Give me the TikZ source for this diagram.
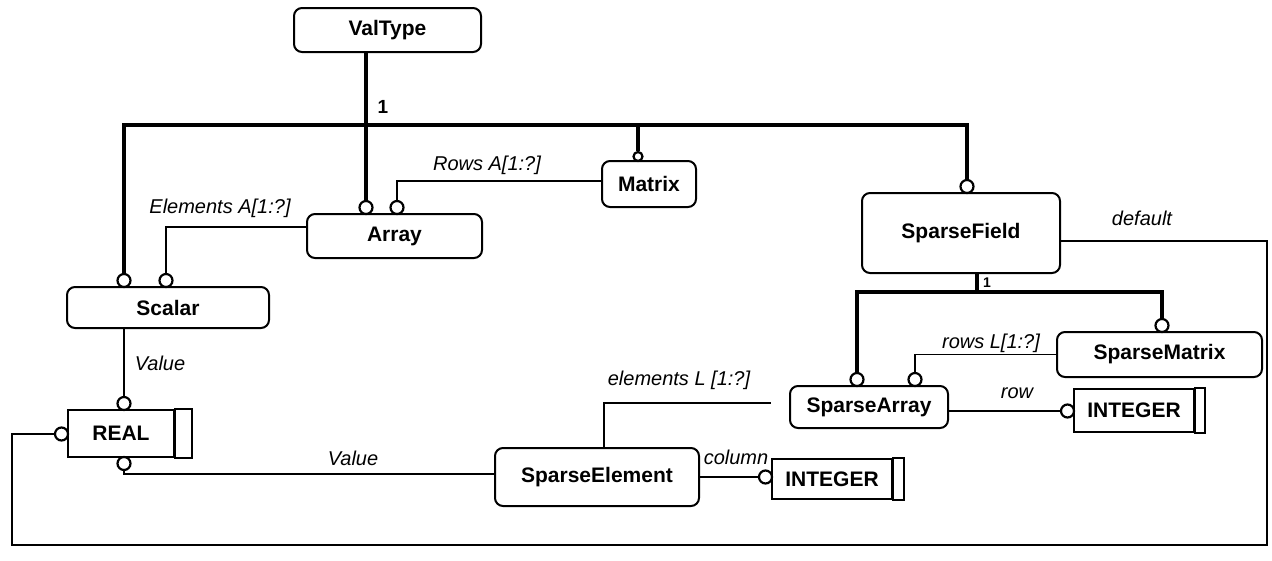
\documentclass[tikz,border=0pt]{standalone}
\usepackage{fontspec}
\setmainfont{Liberation Sans}
\usetikzlibrary{calc}
\begin{document}
\begin{tikzpicture}[x=1pt,y=-1pt,
  ent/.style={draw, rounded corners=8pt, line width=2pt, inner sep=0pt, font=\fontsize{21}{25}\selectfont\bfseries},
  simp/.style={draw, line width=2pt, inner sep=0pt, font=\fontsize{21}{25}\selectfont\bfseries},
  oc/.style={circle, draw, fill=white, line width=2.2pt, minimum size=13pt, inner sep=0pt},
  ocs/.style={oc, minimum size=9pt},
  thk/.style={line width=4.5pt},
  thn/.style={line width=1.8pt},
  lbl/.style={font=\fontsize{20}{24}\selectfont\itshape, inner sep=0pt},
  num/.style={font=\fontsize{19}{22}\selectfont\bfseries, inner sep=0pt}]
\useasboundingbox (0,0) rectangle (1272,560);

% entities
\node[ent, minimum width=187pt, minimum height=44pt] (valtype) at (387.5,30) {ValType};
\node[ent, minimum width=175pt, minimum height=44pt] (array) at (394.5,236) {Array};
\node[ent, minimum width=94pt, minimum height=46pt] (matrix) at (649,184) {Matrix};
\node[ent, minimum width=202pt, minimum height=41pt] (scalar) at (168,307.5) {Scalar};
\node[ent, minimum width=198pt, minimum height=80pt] (sfield) at (961,233) {SparseField};
\node[ent, minimum width=205pt, minimum height=45pt] (smatrix) at (1159.5,354.5) {SparseMatrix};
\node[ent, minimum width=158pt, minimum height=42pt] (sarray) at (869,407) {SparseArray};
\node[ent, minimum width=204pt, minimum height=58pt] (selem) at (597,477) {SparseElement};

% simple types
\node[simp, minimum width=106pt, minimum height=47pt] (real) at (121,433.5) {REAL};
\draw[line width=2pt] (real.north east) rectangle ([xshift=17pt]real.south east);
\node[simp, minimum width=120pt, minimum height=43pt] (int1) at (1134,410.5) {INTEGER};
\draw[line width=2pt] (int1.north east) rectangle ([xshift=10pt]int1.south east);
\node[simp, minimum width=120pt, minimum height=40pt] (int2) at (832,479) {INTEGER};
\draw[line width=2pt] (int2.north east) rectangle ([xshift=11pt]int2.south east);

% circles
\node[oc] (cArrA) at (366,207.5) {};
\node[oc] (cArrB) at (397,207.5) {};
\node[oc] (cScaA) at (124,280.5) {};
\node[oc] (cScaB) at (166,280.5) {};
\node[ocs] (cMat) at (638,156.5) {};
\node[oc] (cSF) at (967,186.5) {};
\node[oc] (cRealT) at (124,403.5) {};
\node[oc] (cRealL) at (61.5,434) {};
\node[oc] (cRealB) at (124,463.5) {};
\node[oc] (cSA1) at (857,379.5) {};
\node[oc] (cSA2) at (915,379.5) {};
\node[oc] (cSM) at (1162,325.5) {};
\node[oc] (cInt1) at (1067.5,411) {};
\node[oc] (cInt2) at (765.5,477) {};

\coordinate (bus) at (0,125);
\coordinate (bus2) at (0,292);
\coordinate (loopBL) at (12,545);
\coordinate (loopR) at (1267,0);

% supertype trees
\draw[thk] (valtype.south -| cArrA) -- (cArrA.north);
\node[num] (one1) at (383,107) {1};
\draw[thk] (cScaA.north) -- (cScaA |- bus) -- (cSF |- bus) -- (cSF.north);
\draw[thk] (cMat |- bus) -- (cMat.north);
\draw[thk] ([xshift=16pt]sfield.south) -- ([xshift=16pt]sfield.south |- bus2);
\node[num, font=\fontsize{14}{16}\selectfont\bfseries] (one2) at (987,283) {1};
\draw[thk] (cSA1.north) -- (cSA1 |- bus2) -- (cSM |- bus2) -- (cSM.north);

% attributes
\draw[thn] ([yshift=3pt]matrix.west) -| (cArrB.north);
\node[lbl] (lrows) at (487,165) {Rows A[1:?]};
\draw[thn] ([yshift=9pt]array.west) -| (cScaB.north);
\node[lbl] (lelems) at (220,208) {Elements A[1:?]};
\draw[thn] (scalar.south -| cRealT) -- (cRealT.north);
\node[lbl] (lval1) at (160,363) {Value};
\draw[thn] ([yshift=3pt]selem.west) -| (cRealB.south);
\node[lbl] (lval2) at (353,458) {Value};
\draw[thn] (cRealL.west) -| (loopBL) -| ([yshift=-8pt]sfield.east -| loopR) -- ([yshift=-8pt]sfield.east);
\node[lbl] (ldef) at (1142,218) {default};
\draw[thn] ([xshift=7pt]selem.north) |- ([xshift=-18pt,yshift=4pt]sarray.west);
\node[lbl] (lelL) at (679,380) {elements L [1:?]};
\draw[thn] (smatrix.west) -| (cSA2.north);
\node[lbl] (lrowsL) at (991,343) {rows L[1:?]};
\draw[thn] ([yshift=-4pt]sarray.east) -- (cInt1.west);
\node[lbl] (lrow) at (1017,393) {row};
\draw[thn] (selem.east) -- (cInt2.west);
\node[lbl] (lcol) at (736,457) {column};
\end{tikzpicture}
\end{document}
